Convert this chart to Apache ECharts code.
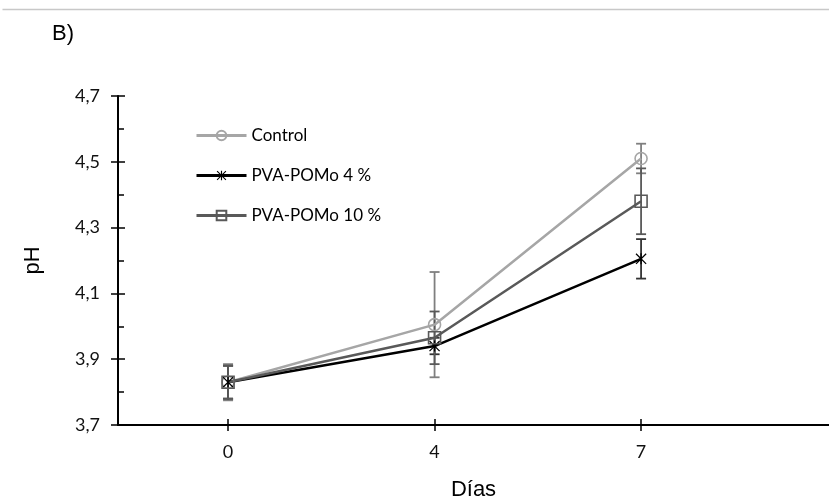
<!DOCTYPE html>
<html>
<head>
<meta charset="utf-8">
<script src="https://cdn.jsdelivr.net/npm/echarts@6/dist/echarts.min.js"></script>
<style>
  html, body { margin: 0; padding: 0; background: #fff; }
  #main { width: 829px; height: 500px; }
</style>
</head>
<body>
<div id="main"></div>
<script>
// datos
const days = ['0', '4', '7'];
const seriesNames = ['Control', 'PVA-POMo 4 %', 'PVA-POMo 10 %'];
const controlPH = [3.83, 4.005, 4.51];
const pva4PH = [3.83, 3.94, 4.205];
const pva10PH = [3.83, 3.965, 4.38];
const controlErr = [0.055, 0.16, 0.045];
const pva4Err = [0.05, 0.025, 0.06];
const pva10Err = [0.05, 0.08, 0.1];
const yMin = 3.7, yMax = 4.7, yStep = 0.2;

const colors = ['#a6a6a6', '#000000', '#595959'];
const asterisk = 'path://M4.4,0 L5.6,0 L5.6,10 L4.4,10 Z M0.8,0 L10,9.2 L9.2,10 L0,0.8 Z M9.2,0 L10,0.8 L0.8,10 L0,9.2 Z';
const tickIdx = days.map((d, i) => i);

const toPoints = (vals) => vals.map((v, i) => [i, v]);
const toErr = (vals, errs) => vals.map((v, i) => [i, v - errs[i], v + errs[i]]);

function errorSeries(name, vals, errs, color) {
  return {
    name: 'err ' + name,
    type: 'custom',
    silent: true,
    z: 1,
    data: toErr(vals, errs),
    renderItem: (params, api) => {
      const lo = api.coord([api.value(0), api.value(1)]);
      const hi = api.coord([api.value(0), api.value(2)]);
      const w = 5;
      const style = { stroke: color, lineWidth: 1.8 };
      return {
        type: 'group',
        children: [
          { type: 'line', shape: { x1: lo[0], y1: lo[1], x2: hi[0], y2: hi[1] }, style: style },
          { type: 'line', shape: { x1: lo[0] - w, y1: lo[1], x2: lo[0] + w, y2: lo[1] }, style: style },
          { type: 'line', shape: { x1: hi[0] - w, y1: hi[1], x2: hi[0] + w, y2: hi[1] }, style: style }
        ]
      };
    }
  };
}

function lineSeries(name, vals, color, symbol, size) {
  return {
    name: name,
    type: 'line',
    z: 3,
    data: toPoints(vals),
    symbol: symbol,
    symbolSize: size,
    color: color,
    lineStyle: { color: color, width: 2.5 },
    itemStyle: symbol === asterisk
      ? { color: color }
      : { color: 'rgba(255,255,255,0)', borderColor: color, borderWidth: 1.6 },
    emphasis: { disabled: true }
  };
}

const chart = echarts.init(document.getElementById('main'));
const tickLine = { color: '#000', width: 1.5 };

chart.setOption({
  animation: false,
  grid: { left: 118, right: 0, top: 96, bottom: 75, containLabel: false, outerBoundsMode: 'none' },
  legend: {
    orient: 'vertical',
    left: 190,
    top: 122,
    itemWidth: 50,
    itemHeight: 12,
    itemGap: 23,
    data: seriesNames,
    lineStyle: { width: 3 },
    textStyle: { fontFamily: 'Lato', fontSize: 17, color: '#000' }
  },
  xAxis: [
    {
      type: 'value',
      min: -0.533,
      max: 2.91,
      position: 'bottom',
      splitLine: { show: false },
      axisLine: { onZero: false, lineStyle: { color: '#000', width: 2 } },
      axisTick: { customValues: tickIdx, length: 6, lineStyle: tickLine },
      axisLabel: {
        customValues: tickIdx,
        formatter: (v) => days[Math.round(v)],
        fontFamily: 'Lato', fontSize: 18, color: '#111', margin: 18
      },
      name: 'Días',
      nameLocation: 'middle',
      nameGap: 54,
      nameTextStyle: { fontFamily: 'Liberation Sans', fontSize: 22, color: '#000' }
    },
    {
      type: 'value',
      min: -0.533,
      max: 2.91,
      position: 'bottom',
      splitLine: { show: false },
      axisLine: { show: false, onZero: false },
      axisTick: { customValues: tickIdx, inside: true, length: 6, lineStyle: tickLine },
      axisLabel: { show: false }
    }
  ],
  yAxis: [
    {
      type: 'value',
      min: yMin,
      max: yMax,
      interval: yStep,
      position: 'left',
      splitLine: { show: false },
      axisLine: { show: true, onZero: false, lineStyle: { color: '#000', width: 2 } },
      axisTick: { show: true, length: 7, lineStyle: tickLine },
      axisLabel: {
        formatter: (v) => v.toFixed(1).replace('.', ','),
        fontFamily: 'Lato', fontSize: 18, color: '#111', margin: 18
      },
      name: 'pH',
      nameLocation: 'middle',
      nameGap: 74,
      nameTextStyle: { fontFamily: 'Liberation Sans', fontSize: 22, color: '#000' }
    },
    {
      type: 'value',
      min: yMin,
      max: yMax,
      interval: yStep,
      position: 'left',
      splitLine: { show: false },
      axisLine: { show: false, onZero: false },
      axisTick: { show: true, inside: true, length: 7, lineStyle: tickLine },
      minorTick: { show: true, splitNumber: 2, length: 6, lineStyle: tickLine },
      axisLabel: { show: false }
    }
  ],
  graphic: [
    { type: 'line', left: 0, top: 7, shape: { x1: 0, y1: 0, x2: 829, y2: 0 }, style: { stroke: '#c8c8c8', lineWidth: 1.5 } },
    { type: 'text', left: 52, top: 23, style: { text: 'B)', font: '22px "Liberation Sans"', fill: '#000' } }
  ],
  series: [
    errorSeries('Control', controlPH, controlErr, '#7f7f7f'),
    errorSeries('PVA-POMo 4 %', pva4PH, pva4Err, '#333333'),
    errorSeries('PVA-POMo 10 %', pva10PH, pva10Err, '#595959'),
    lineSeries('Control', controlPH, colors[0], 'circle', 12),
    lineSeries('PVA-POMo 4 %', pva4PH, colors[1], asterisk, 11),
    lineSeries('PVA-POMo 10 %', pva10PH, colors[2], 'rect', 12)
  ]
});
</script>
</body>
</html>
